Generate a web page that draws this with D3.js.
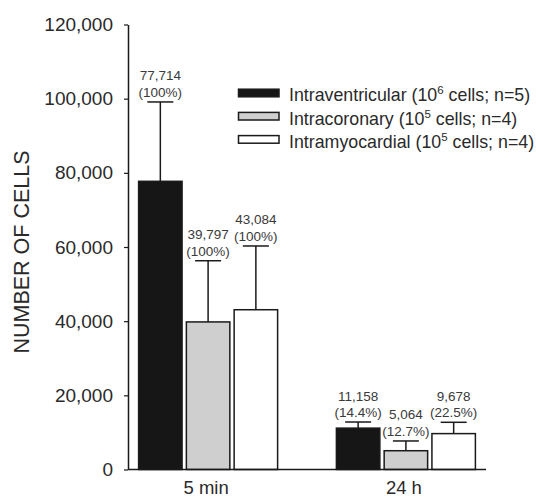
<!DOCTYPE html>
<html>
<head>
<meta charset="utf-8">
<script src="https://cdn.jsdelivr.net/npm/d3@7"></script>
<style>
  html, body { margin: 0; padding: 0; background: #fff; }
  svg { display: block; font-family: "Liberation Sans", Arial, sans-serif; }
</style>
</head>
<body>
<svg id="chart" width="536" height="499"></svg>
<script>
// ---- data ----
const groups = ["5 min", "24 h"];
const seriesNames = ["Intraventricular", "Intracoronary", "Intramyocardial"];
const seriesDose = ["6", "5", "5"];
const seriesN = ["5", "4", "4"];
const means5min = [77714, 39797, 43084];
const means24h = [11158, 5064, 9678];
const sd5min = [21400, 16500, 17190];
const sd24h = [1650, 2630, 3050];
const countLabels5min = ["77,714", "39,797", "43,084"];
const countLabels24h = ["11,158", "5,064", "9,678"];
const pctLabels5min = ["(100%)", "(100%)", "(100%)"];
const pctLabels24h = ["(14.4%)", "(12.7%)", "(22.5%)"];
const yTicks = [0, 20000, 40000, 60000, 80000, 100000, 120000];
const fills = ["#161616", "#cfcfcf", "#ffffff"];

const rows = [];
groups.forEach((g, gi) => {
  seriesNames.forEach((s, si) => {
    rows.push({
      group: g, series: s, si,
      mean: gi === 0 ? means5min[si] : means24h[si],
      sd: gi === 0 ? sd5min[si] : sd24h[si],
      count: gi === 0 ? countLabels5min[si] : countLabels24h[si],
      pct: gi === 0 ? pctLabels5min[si] : pctLabels24h[si]
    });
  });
});

const svg = d3.select("#chart");
const x0 = 128, x1end = 486, yTop = 24.5, yBot = 469.5;

const y = d3.scaleLinear().domain([0, 120000]).range([yBot, yTop]);
const xg = d3.scalePoint().domain(groups).range([x0, x1end]).padding(0.405);
const xs = d3.scaleBand().domain(seriesNames).range([-69.5, 69.5]).paddingInner(0.09);

const ink = "#1a1a1a";

// bars
svg.append("g").selectAll("rect").data(rows).join("rect")
  .attr("x", d => xg(d.group) + xs(d.series))
  .attr("y", d => y(d.mean))
  .attr("width", xs.bandwidth())
  .attr("height", d => y(0) - y(d.mean))
  .attr("fill", d => fills[d.si])
  .attr("stroke", ink)
  .attr("stroke-width", 1.5);

// error bars (upper only)
const eb = svg.append("g").attr("stroke", ink).attr("stroke-width", 1.5);
rows.forEach(d => {
  const cx = xg(d.group) + xs(d.series) + xs.bandwidth() / 2;
  eb.append("line").attr("x1", cx).attr("x2", cx)
    .attr("y1", y(d.mean)).attr("y2", y(d.mean + d.sd));
  eb.append("line").attr("x1", cx - 13).attr("x2", cx + 13)
    .attr("y1", y(d.mean + d.sd)).attr("y2", y(d.mean + d.sd));
});

// value labels
const lab = svg.append("g").attr("font-size", "13.5px").attr("fill", "#3a3a3a").attr("text-anchor", "middle");
rows.forEach(d => {
  const cx = xg(d.group) + xs(d.series) + xs.bandwidth() / 2;
  const top = y(d.mean + d.sd);
  lab.append("text").attr("x", cx).attr("y", top - 5).text(d.pct);
  lab.append("text").attr("x", cx).attr("y", top - 21.5).text(d.count);
});

// y axis
const yAxis = d3.axisLeft(y).tickValues(yTicks).tickFormat(d3.format(",")).tickSize(4).tickSizeOuter(0).tickPadding(11);
const ga = svg.append("g").attr("transform", `translate(${x0},0)`).call(yAxis);
ga.select(".domain").attr("stroke", ink).attr("stroke-width", 1.5);
ga.selectAll(".tick line").attr("stroke", ink).attr("stroke-width", 1.2);
ga.selectAll(".tick text").attr("font-size", "19px").attr("fill", "#2a2a2a")
  .attr("font-family", "Liberation Sans, Arial, sans-serif");

// x axis line
svg.append("line").attr("x1", x0).attr("x2", x1end).attr("y1", yBot).attr("y2", yBot)
  .attr("stroke", ink).attr("stroke-width", 1.5);
svg.append("g").selectAll("text").data(groups).join("text")
  .attr("x", d => xg(d) - 2)
  .attr("y", 494)
  .attr("text-anchor", "middle")
  .attr("font-size", "18.5px")
  .attr("fill", "#2a2a2a")
  .text(d => d);

// y axis title
svg.append("text")
  .attr("transform", "translate(29,252) rotate(-90)")
  .attr("text-anchor", "middle")
  .attr("font-size", "21.5px")
  .attr("fill", "#2a2a2a")
  .text("NUMBER OF CELLS");

// legend
const lg = svg.append("g").attr("transform", "translate(238.5,93)");
seriesNames.forEach((s, i) => {
  const row = lg.append("g").attr("transform", `translate(0,${i * 23.2})`);
  row.append("rect").attr("x", 0).attr("y", -3.8).attr("width", 40.5).attr("height", 7.6)
    .attr("fill", fills[i]).attr("stroke", ink).attr("stroke-width", 1.5);
  const t = row.append("text").attr("x", 50.5).attr("y", 8.3).attr("font-size", "17.8px").attr("fill", "#2a2a2a");
  t.append("tspan").text(`${s} (10`);
  t.append("tspan").attr("dy", -7).attr("font-size", "11.5px").text(seriesDose[i]);
  t.append("tspan").attr("dy", 7).text(` cells; n=${seriesN[i]})`);
});
</script>
</body>
</html>
